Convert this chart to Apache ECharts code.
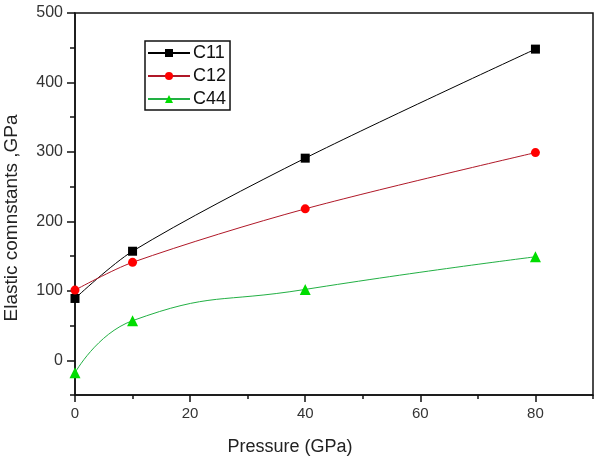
<!DOCTYPE html>
<html>
<head>
<meta charset="utf-8">
<script src="https://cdn.jsdelivr.net/npm/echarts@6/dist/echarts.min.js"></script>
<style>
  html, body { margin: 0; padding: 0; background: #fff; }
  #main { width: 600px; height: 462px; }
</style>
</head>
<body>
<div id="main"></div>
<script>
// data
var pressure = [0, 10, 40, 80];
var c11 = [89, 157, 291, 448];
var c12 = [101, 141, 218, 299];
var c44 = [-18, 57, 102, 149];

var xLabels = [0, 20, 40, 60, 80];
var xMinor = [10, 30, 50, 70, 90];
var yLabels = [0, 100, 200, 300, 400, 500];
var yMinor = [-50, 50, 150, 250, 350, 450];

function pairs(xs, ys) {
    var out = [];
    for (var i = 0; i < xs.length; i++) {
        out.push([xs[i], ys[i]]);
    }
    return out;
}

var myChart = echarts.init(document.getElementById('main'));

var font = 'Liberation Sans';

option = {
    backgroundColor: '#fff',
    animation: false,
    grid: {
        left: 75,
        right: 7,
        top: 13,
        bottom: 67,
        containLabel: false,
        outerBoundsMode: 'none',
        show: true,
        borderColor: '#111',
        borderWidth: 1.5
    },
    legend: {
        orient: 'vertical',
        left: 145,
        top: 41,
        itemWidth: 42,
        itemHeight: 10,
        itemGap: 5,
        padding: [3, 4, 2, 2],
        borderColor: '#111',
        borderWidth: 1.5,
        textStyle: { fontFamily: font, fontSize: 18, color: '#111', padding: [0, 0, 0, -2] },
        data: ['C11', 'C12', 'C44']
    },
    xAxis: [
        {
            type: 'value',
            min: 0,
            max: 90,
            name: 'Pressure (GPa)',
            nameLocation: 'middle',
            nameGap: 43,
            nameTextStyle: { fontFamily: font, fontSize: 18, color: '#222', padding: [0, 88, 0, 0] },
            axisLine: { show: true, onZero: false, lineStyle: { color: '#111', width: 1.5 } },
            axisTick: { show: true, inside: false, length: 7, customValues: xLabels, lineStyle: { color: '#111', width: 1.5 } },
            axisLabel: { customValues: xLabels, fontFamily: font, fontSize: 15, color: '#333', margin: 11 },
            splitLine: { show: false }
        },
        {
            type: 'value',
            min: 0,
            max: 90,
            position: 'bottom',
            axisLine: { show: false, onZero: false },
            axisTick: { show: true, length: 4, customValues: xMinor, lineStyle: { color: '#111', width: 1.5 } },
            axisLabel: { show: false },
            splitLine: { show: false }
        }
    ],
    yAxis: [
        {
            type: 'value',
            min: -50,
            max: 500,
            name: 'Elastic comnstants ,GPa',
            nameLocation: 'middle',
            nameGap: 54,
            nameTextStyle: { fontFamily: font, fontSize: 19, color: '#222', padding: [0, 28, 0, 0] },
            axisLine: { show: true, onZero: false, lineStyle: { color: '#111', width: 1.5 } },
            axisTick: { show: true, length: 8, customValues: yLabels, lineStyle: { color: '#111', width: 1.5 } },
            axisLabel: { customValues: yLabels, fontFamily: font, fontSize: 16, color: '#333', margin: 12 },
            splitLine: { show: false }
        },
        {
            type: 'value',
            min: -50,
            max: 500,
            position: 'left',
            axisLine: { show: false, onZero: false },
            axisTick: { show: true, length: 5, customValues: yMinor, lineStyle: { color: '#111', width: 1.5 } },
            axisLabel: { show: false },
            splitLine: { show: false }
        }
    ],
    series: [
        {
            name: 'C11',
            type: 'line',
            smooth: 0.3,
            symbol: 'rect',
            symbolSize: 9,
            itemStyle: { color: '#000' },
            lineStyle: { color: '#000', width: 1 },
            data: pairs(pressure, c11)
        },
        {
            name: 'C12',
            type: 'line',
            smooth: 0.3,
            symbol: 'circle',
            symbolSize: 9,
            itemStyle: { color: '#ff0000' },
            lineStyle: { color: '#b01828', width: 1 },
            data: pairs(pressure, c12)
        },
        {
            name: 'C44',
            type: 'line',
            smooth: 0.5,
            symbol: 'triangle',
            symbolSize: 11,
            itemStyle: { color: '#00dd00' },
            lineStyle: { color: '#22b044', width: 1 },
            data: pairs(pressure, c44)
        }
    ]
};

myChart.setOption(option);
</script>
</body>
</html>
